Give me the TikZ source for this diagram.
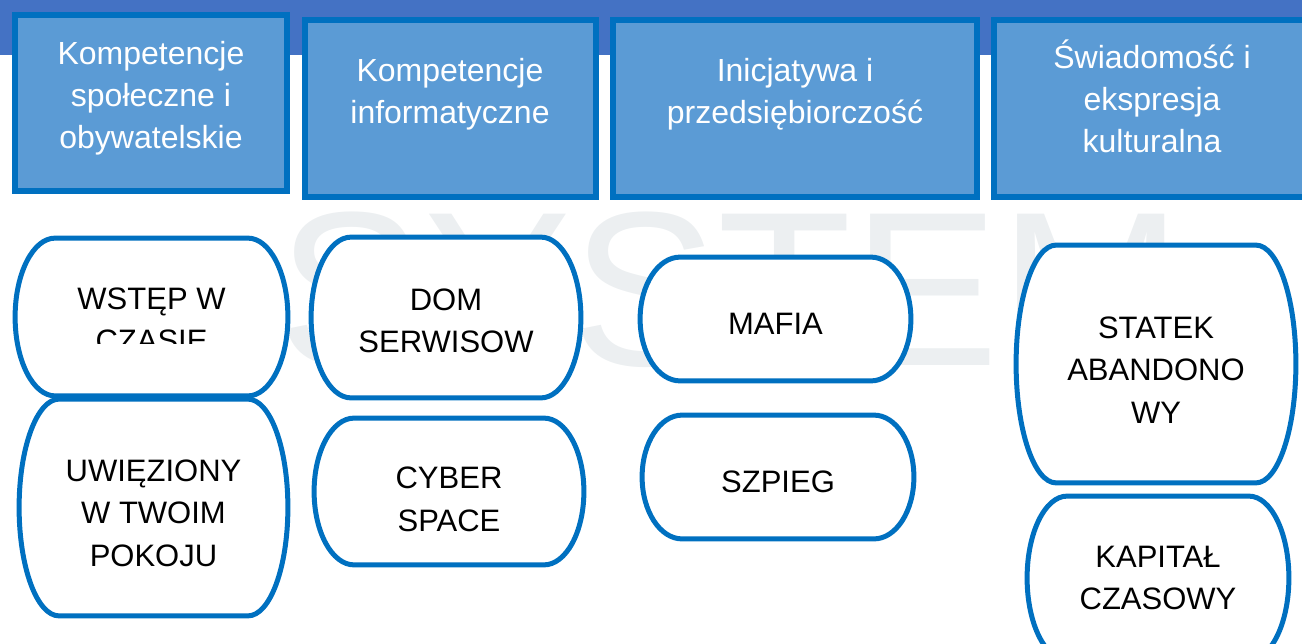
\documentclass[tikz,border=0pt]{standalone}
\usepackage{fontspec}
\setmainfont{Liberation Sans}
\usetikzlibrary{calc, positioning}
\definecolor{bannerblue}{HTML}{4472C4}
\definecolor{headfill}{HTML}{5B9BD5}
\definecolor{edgeblue}{HTML}{0070C0}
\definecolor{markgray}{RGB}{236,239,241}
\pgfdeclarelayer{background}
\pgfsetlayers{background,main}

\tikzstyle{headbox} = [
    rectangle,
    draw=edgeblue,
    line width=3pt,
    fill=headfill,
    inner sep=0pt
]
\tikzstyle{headtext} = [
    align=center,
    text=white,
    inner sep=0pt,
    font=\fontsize{16}{21}\selectfont
]
\tikzstyle{pillbox} = [
    rectangle,
    align=center,
    inner sep=0pt,
    font=\fontsize{15.5}{21.3}\selectfont
]
\tikzstyle{pillline} = [draw=edgeblue, line width=2.5pt, fill=white]

% rounded frame with elliptic sides round a named node, raised by #2
\newcommand{\pillframe}[2]{%
  \begin{pgfonlayer}{background}
  \draw [pillline] let \p1=([yshift=#2]#1.north west), \p2=([yshift=#2]#1.south east),
      \n1={(\y1-\y2)/2} in
    (\x1+20pt,\y1) -- (\x2-20pt,\y1)
    arc[start angle=90, end angle=-90, x radius=20pt, y radius=\n1]
    -- (\x1+20pt,\y2)
    arc[start angle=270, end angle=90, x radius=20pt, y radius=\n1] -- cycle;
  \end{pgfonlayer}}

\begin{document}
\begin{tikzpicture}[x=0.5pt, y=-0.5pt]
\useasboundingbox (0,0) rectangle (1302,643);

% Background
\fill [bannerblue] (0,0) rectangle (1302,55);
\begin{pgfonlayer}{background}
\node (mark) [text=markgray, font=\fontsize{110}{110}\selectfont] at (730,290) {SYSTEM};
\end{pgfonlayer}

% Headers
\node (hd1) [headbox, minimum width=136pt, minimum height=88pt] at (151,103) {};
\node (hd2) [headbox, minimum width=145.5pt, minimum height=88.5pt] at (450.5,108.5) {};
\node (hd3) [headbox, minimum width=182pt, minimum height=88.5pt] at (795,108.5) {};
\node (hd4) [headbox, minimum width=157.5pt, minimum height=88.5pt] at (1151.5,108.5) {};

\node (hd1txt) [headtext] at (151,98) {Kompetencje\\społeczne i\\obywatelskie};
\node (hd2txt) [headtext] at (450,94) {Kompetencje\\informatyczne};
\node (hd3txt) [headtext] at (795,94) {Inicjatywa i\\przedsiębiorczość};
\node (hd4txt) [headtext] at (1152,96.5) {Świadomość i\\ekspresja\\kulturalna};

% Rooms
\begin{scope}
\clip (0,0) rectangle (1302,343);
\node (wstep) [pillbox, minimum width=136pt, minimum height=78.5pt] at (151.5,320) {WSTĘP W\\CZASIE};
\end{scope}
\node (uwiez) [pillbox, minimum width=134pt, minimum height=108pt] at (153.5,513) {UWIĘZIONY\\W TWOIM\\POKOJU};
\node (dom) [pillbox, minimum width=134.5pt, minimum height=80pt] at (446,321) {DOM\\SERWISOW};
\node (cyber) [pillbox, minimum width=134.5pt, minimum height=73pt] at (449,499.5) {CYBER\\SPACE};
\node (mafia) [pillbox, minimum width=135pt, minimum height=61.5pt] at (775.5,324) {MAFIA};
\node (szpieg) [pillbox, minimum width=135.5pt, minimum height=61.5pt] at (778,482) {SZPIEG};
\node (statek) [pillbox, minimum width=139.5pt, minimum height=118.5pt] at (1156,370) {STATEK\\ABANDONO\\WY};
\node (kapital) [pillbox, minimum width=130.5pt, minimum height=81.5pt] at (1158,578) {KAPITAŁ\\CZASOWY};

% Frames
\pillframe{wstep}{1.5pt}
\pillframe{uwiez}{2.75pt}
\pillframe{dom}{1.75pt}
\pillframe{cyber}{4pt}
\pillframe{mafia}{2.5pt}
\pillframe{szpieg}{2.5pt}
\pillframe{statek}{3pt}
\pillframe{kapital}{0pt}

\end{tikzpicture}
\end{document}
